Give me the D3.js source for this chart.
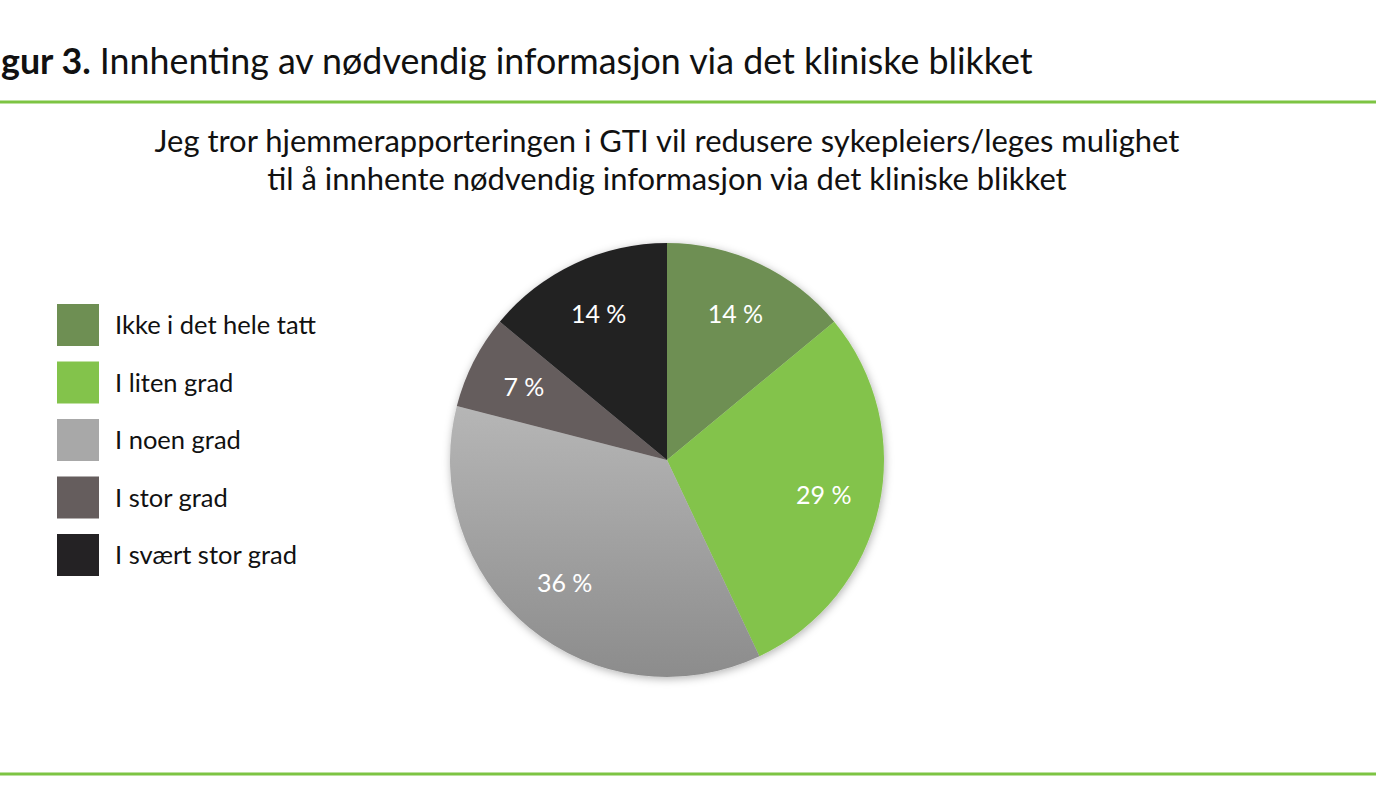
<!DOCTYPE html>
<html><head><meta charset="utf-8">
<script src="https://cdn.jsdelivr.net/npm/d3@7"></script>
<style>
html,body{margin:0;padding:0;background:#fff;overflow:hidden}
text{font-family:Lato,"Open Sans",sans-serif}
</style></head>
<body><svg id="c" width="1400" height="786"></svg>
<script>
const categories = ["Ikke i det hele tatt","I liten grad","I noen grad","I stor grad","I svært stor grad"];
const values = [14, 29, 36, 7, 14];
const labels = ["14 %","29 %","36 %","7 %","14 %"];
const colors = ["#6e8f53","#83c34b","url(#gray)","#655d5d","#242224"];
const legendColors = ["#6e8f53","#83c34b","#a8a8a8","#655d5d","#242224"];
const titleBold = "gur 3.";
const titleRest = " Innhenting av nødvendig informasjon via det kliniske blikket";
const subtitle = ["Jeg tror hjemmerapporteringen i GTI vil redusere sykepleiers/leges mulighet",
                  "til å innhente nødvendig informasjon via det kliniske blikket"];

const svg = d3.select("#c");
const defs = svg.append("defs");
const g1 = defs.append("linearGradient").attr("id","gray").attr("x1",0).attr("y1",0).attr("x2",0).attr("y2",1);
g1.append("stop").attr("offset","0%").attr("stop-color","#b6b6b6");
g1.append("stop").attr("offset","100%").attr("stop-color","#8c8c8c");
const f = defs.append("filter").attr("id","sh").attr("x","-20%").attr("y","-20%").attr("width","140%").attr("height","140%");
f.append("feDropShadow").attr("dx",1).attr("dy",2).attr("stdDeviation",4).attr("flood-color","#000").attr("flood-opacity",0.3);

// Title
const t = svg.append("text").attr("x",1).attr("y",74).attr("font-size",35).attr("fill","#111");
t.append("tspan").attr("font-weight","bold").text(titleBold);
t.append("tspan").text(titleRest);
const tw = t.node().getComputedTextLength();
t.attr("font-size", 35*1032/tw);

// lines
svg.append("line").attr("x1",0).attr("x2",1376).attr("y1",102).attr("y2",102).attr("stroke","#7dc443").attr("stroke-width",3);
svg.append("line").attr("x1",0).attr("x2",1376).attr("y1",774).attr("y2",774).attr("stroke","#7dc443").attr("stroke-width",3);

// subtitle
const subs = svg.selectAll("text.sub").data(subtitle).join("text").attr("class","sub")
  .attr("x",667).attr("y",(d,i)=>152+i*38).attr("text-anchor","middle")
  .attr("font-size",30).attr("fill","#111").text(d=>d);
const sw = subs.node().getComputedTextLength();
subs.attr("font-size", 30*1025/sw);

// pie
const cx=667, cy=460, R=217;
const pie = d3.pie().sort(null).value(d=>d)(values);
const arc = d3.arc().innerRadius(0).outerRadius(R);
const lab = d3.arc().innerRadius(R*0.74).outerRadius(R*0.74);
const pg = svg.append("g").attr("transform",`translate(${cx},${cy})`);
pg.append("g").attr("filter","url(#sh)").selectAll("path").data(pie).join("path")
  .attr("d",arc).attr("fill",(d,i)=>colors[i]);
pg.selectAll("text").data(pie).join("text")
  .attr("transform",d=>`translate(${lab.centroid(d)})`)
  .attr("text-anchor","middle").attr("dy","0.35em")
  .attr("font-size",25).attr("fill","#fff").text((d,i)=>labels[i]);

// legend
const lg = svg.append("g");
const ly = d3.scaleBand().domain(categories).range([304, 304+5*57.5]).paddingInner(0);
const items = lg.selectAll("g").data(categories).join("g").attr("transform",d=>`translate(57,${ly(d)})`);
items.append("rect").attr("width",42).attr("height",42).attr("fill",(d,i)=>legendColors[i]);
items.append("text").attr("x",58).attr("y",21).attr("dy","0.36em").attr("font-size",25.5).attr("fill","#111").text(d=>d);
</script></body></html>
